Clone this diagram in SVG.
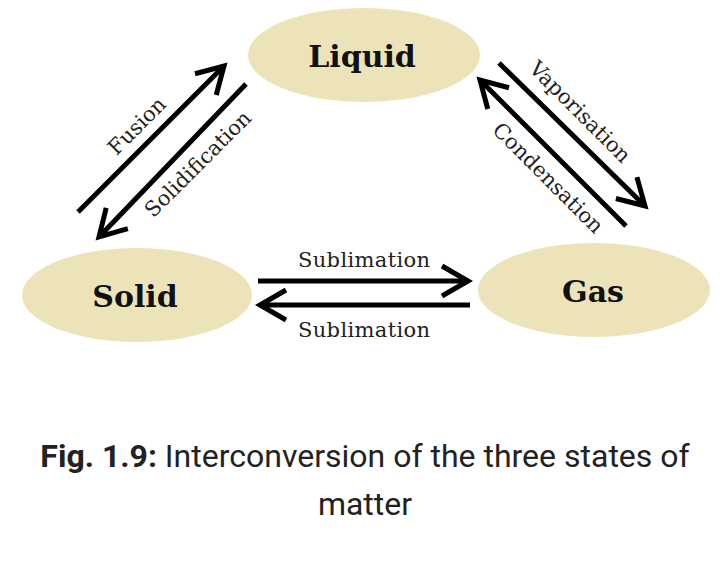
<svg xmlns="http://www.w3.org/2000/svg" width="720" height="577" viewBox="0 0 720 577">
<style>
.node{fill:#ece4b8;stroke:none}
.nl{font-family:"DejaVu Serif","Liberation Serif",serif;font-weight:bold;font-size:30px;fill:#111;text-anchor:middle}
.el{font-family:"DejaVu Serif","Liberation Serif",serif;font-size:21px;fill:#222;text-anchor:middle}
.ar{stroke:#000;stroke-width:5;fill:none;marker-end:url(#chev)}
.cap{font-family:Roboto,"Liberation Sans",sans-serif;font-size:32px;fill:#222;text-anchor:middle}
</style>
<defs>
<marker id="chev" markerUnits="userSpaceOnUse" markerWidth="40" markerHeight="40" viewBox="-34 -20 40 40" refX="0" refY="0" orient="auto" overflow="visible">
<path d="M -26 -15 L 0 0 L -26 15" stroke="#000" stroke-width="5" fill="none" stroke-linejoin="miter"/>
</marker>
</defs>
<rect width="720" height="577" fill="#fff"/>
<g id="liquid"><ellipse class="node" cx="364" cy="55" rx="116" ry="47"/><text class="nl" x="362" y="67">Liquid</text></g>
<g id="solid"><ellipse class="node" cx="137" cy="295" rx="115" ry="47"/><text class="nl" x="135" y="307">Solid</text></g>
<g id="gas"><ellipse class="node" cx="594" cy="290" rx="116" ry="47"/><text class="nl" x="593" y="302">Gas</text></g>
<g id="connectors">
<line class="ar" x1="78" y1="212" x2="224" y2="66"/>
<line class="ar" x1="246" y1="84" x2="99" y2="237"/>
<line class="ar" x1="499" y1="63" x2="645" y2="206"/>
<line class="ar" x1="626" y1="226" x2="480" y2="80"/>
<line class="ar" x1="258" y1="281" x2="468" y2="281"/>
<line class="ar" x1="470" y1="305" x2="260" y2="305"/>
<text class="el" transform="translate(137 126) rotate(-45)" y="7">Fusion</text>
<text class="el" transform="translate(198 164) rotate(-45)" y="7">Solidification</text>
<text class="el" transform="translate(580 112) rotate(45)" y="7">Vaporisation</text>
<text class="el" transform="translate(548 178) rotate(45)" y="7">Condensation</text>
<text class="el" x="364" y="267" textLength="132">Sublimation</text>
<text class="el" x="364" y="337" textLength="132">Sublimation</text>
</g>
<text class="cap" x="365" y="467"><tspan font-weight="bold">Fig. 1.9:</tspan> Interconversion of the three states of</text>
<text class="cap" x="365" y="515">matter</text>
</svg>
